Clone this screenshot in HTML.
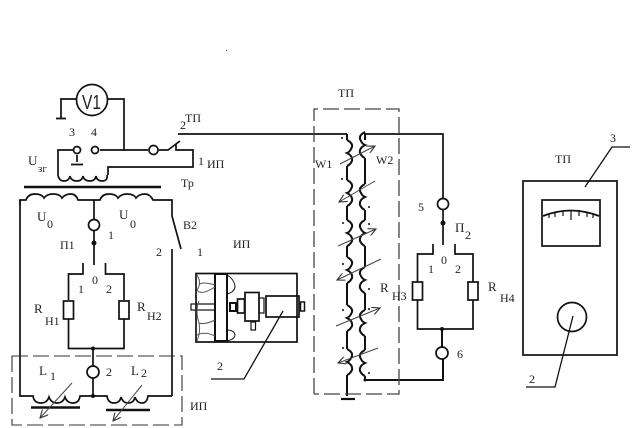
<!DOCTYPE html>
<html><head><meta charset="utf-8"><style>
html,body{margin:0;padding:0;background:#fff;width:643px;height:428px;overflow:hidden}
svg{display:block}
text{font-family:"Liberation Serif","DejaVu Serif",serif;font-size:12px;fill:#222}
</style></head><body>
<svg width="643" height="428" viewBox="0 0 643 428" xmlns="http://www.w3.org/2000/svg">
<defs>
<marker id="a" markerWidth="9" markerHeight="8" refX="8" refY="4" orient="auto" markerUnits="userSpaceOnUse"><path d="M0 0L8 4L0 8" fill="none" stroke="#333" stroke-width="1.100"/></marker>
<path id="c" d="M0 -13Q6 -10 5 -6Q3 -1 0 0Q6 3 5 8Q3 12 0 13"/>
</defs>
<rect width="643" height="428" fill="#fff"/>
<rect x="226" y="50" width="1" height="1" fill="#555"/>
<g fill="none" stroke="#111" stroke-width="1.700">
<!-- top circuit -->
<circle cx="92" cy="100" r="15.500"/>
<path d="M76 99H61V118M56 118.500H66M107 99H124V150"/>
<path d="M100 150H148M159 150H168L180 141M176 144V150H193V167H108V175"/>
<path d="M58 175V150H73M77 155V162M71 164.500H83"/>
<circle cx="77" cy="150" r="3.500"/><circle cx="95" cy="150" r="3.500"/><circle cx="153.500" cy="150" r="4.500"/>
<path d="M58 175q1 6 6 6q5 0 6-5q1 5 7 5q5 0 6-5q1 5 7 5q5 0 6-5q1 5 6 5q6 0 5-6"/>
<path d="M24 187H161" stroke-width="2.500"/>
<path d="M20 205V200H26q2-6 9-6q7 0 9 4q3-4 9-4q7 0 9 4q3-4 9-4q5 0 7 6H100q2-6 9-6q7 0 9 4q3-4 9-4q7 0 9 4q3-4 9-4q5 0 8 6H172V216L181 249M172 249V396"/>
<path d="M20 200V396H33q1 7 8 7q6 0 8-6q2 6 8 6q6 0 8-6q2 6 8 6q6 0 7-7H107q1 7 7 7q6 0 7-6q2 6 7 6q6 0 7-6q2 6 7 6q5 0 6-7H172"/>
<path d="M31 407.500H80M106 410H150" stroke-width="2.500"/>
<!-- P1 -->
<path d="M94 200V219.500M94 230.500V265"/>
<circle cx="94" cy="225" r="5.500"/>
<path d="M83 263V274H68.500V300M68.500 319V348.500H124V319M124 300V274H105.500V263"/>
<rect x="63.500" y="301" width="10" height="18"/><rect x="119" y="301" width="10" height="18"/>
<path d="M93 348V366M93 378V396"/>
<circle cx="93" cy="372" r="6"/>
<!-- fan box -->
<rect x="196" y="273.500" width="101" height="68.500"/>
<rect x="215" y="274" width="12" height="67" stroke-width="2"/>
<rect x="191" y="304" width="24" height="6" stroke-width="1.200"/>
<rect x="230" y="303" width="6" height="8" stroke-width="2"/>
<rect x="237.500" y="299" width="7" height="14"/>
<rect x="245" y="292.500" width="14" height="28.500"/>
<rect x="251" y="322" width="4.500" height="8" stroke-width="1.200"/>
<rect x="259" y="298" width="5" height="15" stroke-width="1.200"/>
<rect x="266" y="296" width="33" height="21"/>
<rect x="300.500" y="302" width="4" height="9" stroke-width="1.500"/>
<path d="M227 275q7 4 8 11q0 6-8 8M227 330q7 0 8 5q0 4-8 6" stroke-width="1"/>
<path d="M197 275q5 8 0 15q4 6 18-3M197 341q4-10 2-18q-4-12 0-22M199 323q6 2 16-3M199 285q2-4 16 0M197 335q8-4 18 1" stroke-width="1" stroke="#555"/>
<path d="M283 311L244 379H211" stroke-width="1.300"/>
<!-- top wire and coils -->
<path d="M178 134H347M364 134H443V199M443 209.500V245"/>
<circle cx="443" cy="204" r="5.500"/>
<path d="M347 134V140M347 166V180M347 206V220M347 246V257M347 283V305M347 331V349M347 375V396M365 134V140M365 158V184M365 210V220M365 246V267M365 293V310M365 336V350M365 376V380H443V359M442 347V329" stroke-width="2"/>
<path d="M341 399H355" stroke-width="2.200"/>
<g stroke-width="2">
<use href="#c" transform="translate(347,153)"/>
<use href="#c" transform="translate(347,193)"/>
<use href="#c" transform="translate(347,233)"/>
<use href="#c" transform="translate(347,270)"/>
<use href="#c" transform="translate(347,318)"/>
<use href="#c" transform="translate(347,362)"/>
<use href="#c" transform="translate(365,145) scale(-1,1)"/>
<use href="#c" transform="translate(365,197) scale(-1,1)"/>
<use href="#c" transform="translate(365,233) scale(-1,1)"/>
<use href="#c" transform="translate(365,280) scale(-1,1)"/>
<use href="#c" transform="translate(365,323) scale(-1,1)"/>
<use href="#c" transform="translate(365,363) scale(-1,1)"/>
</g>
<!-- P2 -->
<path d="M433 244V254H417.500V282M417.500 300V329H473V300M473 282V254H455V244"/>
<rect x="412.500" y="282" width="10" height="18"/><rect x="468" y="282" width="10" height="18"/>
<circle cx="442" cy="353" r="6"/>
<!-- right device -->
<rect x="523" y="181" width="94" height="174"/>
<rect x="542" y="200" width="58" height="46"/>
<circle cx="572" cy="317" r="14.500"/>
<path d="M543 216Q571 205 599 216" stroke-width="1.800"/>
<path d="M549 214V218M555 212V217M563 211V216M571 210V220M579 210V216M587 212V217M593 213V218" stroke-width="1.200"/>
<path d="M585 187L612 147H630M573 316L555 387H526" stroke-width="1.300"/>
</g>
<g fill="#111">
<circle cx="94" cy="243" r="2.500"/><circle cx="93" cy="348.500" r="2"/><circle cx="93" cy="396" r="2"/>
<circle cx="443" cy="223" r="2.500"/><circle cx="442" cy="329" r="2"/><circle cx="365" cy="380" r="1.500"/>
<circle cx="342" cy="138" r="1"/><circle cx="342" cy="179" r="1"/><circle cx="369" cy="207" r="1"/>
<circle cx="343" cy="223" r="1"/><circle cx="369" cy="224" r="1"/><circle cx="343" cy="264" r="1"/>
<circle cx="369" cy="289" r="1"/><circle cx="343" cy="310" r="1"/><circle cx="369" cy="309" r="1"/>
<circle cx="343" cy="348" r="1"/><circle cx="369" cy="373" r="1"/>
</g>
<!-- dashed boxes -->
<g fill="none" stroke="#333" stroke-width="1.100" stroke-dasharray="16 5">
<rect x="12" y="356" width="170" height="69"/>
<path d="M314 394V109H399V394H314" stroke="#444" stroke-width="1.300"/>
</g>
<!-- arrows -->
<g fill="none" stroke="#444" stroke-width="1">
<path d="M72 383L40 418" marker-end="url(#a)"/>
<path d="M142 385L113 421" marker-end="url(#a)"/>
<path d="M340 164L375 146" marker-end="url(#a)"/>
<path d="M375 181L339 202" marker-end="url(#a)"/>
<path d="M338 246L376 229" marker-end="url(#a)"/>
<path d="M381 259L337 280" marker-end="url(#a)"/>
<path d="M336 326L380 308" marker-end="url(#a)"/>
<path d="M378 348L338 363" marker-end="url(#a)"/>
</g>
<!-- labels -->
<text x="82" y="109" textLength="19" lengthAdjust="spacingAndGlyphs" style="font-family:'Liberation Sans',sans-serif;font-size:20px">V1</text>
<text x="69" y="136">3</text><text x="91" y="136">4</text>
<text x="180" y="129">2</text><text x="185" y="122">ТП</text>
<text x="198" y="165">1</text><text x="207" y="168">ИП</text>
<text x="181" y="187">Тр</text>
<text x="28" y="165" style="font-size:13px">U</text><text x="38" y="172" style="font-size:11px">зг</text>
<text x="37" y="221" style="font-size:13px">U</text><text x="47" y="228" style="font-size:12px">0</text>
<text x="119" y="219" style="font-size:13px">U</text><text x="130" y="228" style="font-size:12px">0</text>
<text x="183" y="229">В2</text>
<text x="156" y="256">2</text><text x="197" y="256">1</text>
<text x="108" y="239">1</text><text x="60" y="249">П1</text>
<text x="92" y="284">0</text><text x="78" y="293">1</text><text x="106" y="293">2</text>
<text x="34" y="313" style="font-size:13px">R</text><text x="45" y="325" style="font-size:12px">Н1</text>
<text x="137" y="311" style="font-size:13px">R</text><text x="147" y="320" style="font-size:12px">Н2</text>
<text x="39" y="375" style="font-size:13px">L</text><text x="50" y="380" style="font-size:12px">1</text>
<text x="106" y="376">2</text>
<text x="131" y="375" style="font-size:13px">L</text><text x="141" y="377" style="font-size:12px">2</text>
<text x="190" y="410">ИП</text>
<text x="233" y="248">ИП</text>
<text x="217" y="370">2</text>
<text x="338" y="97">ТП</text>
<text x="315" y="168">W1</text>
<text x="376" y="164">W2</text>
<text x="380" y="292" style="font-size:13px">R</text><text x="392" y="300" style="font-size:12px">Н3</text>
<text x="418" y="211">5</text>
<text x="455" y="232" style="font-size:13px">П</text><text x="465" y="239" style="font-size:12px">2</text>
<text x="441" y="264">0</text><text x="428" y="273">1</text><text x="455" y="273">2</text>
<text x="488" y="291" style="font-size:13px">R</text><text x="500" y="302" style="font-size:12px">Н4</text>
<text x="457" y="358">6</text>
<text x="555" y="163">ТП</text>
<text x="610" y="142">3</text>
<text x="529" y="383">2</text>
</svg>
</body></html>
